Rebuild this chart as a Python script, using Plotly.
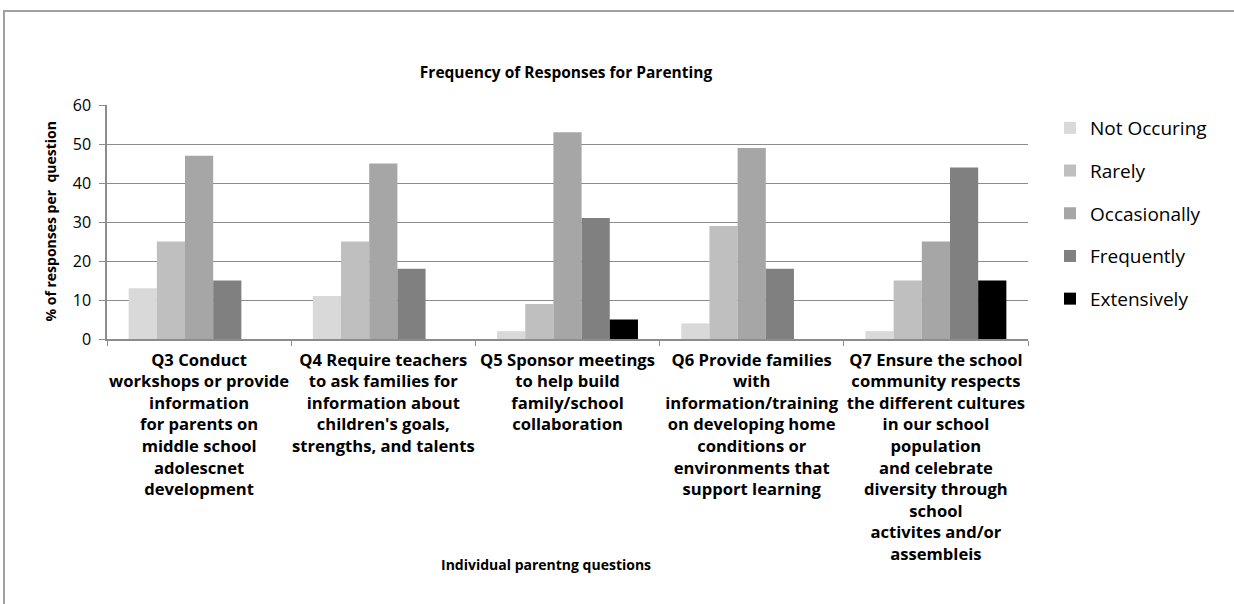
import plotly.graph_objects as go

# Survey results: share of responses per frequency level for each parenting question
questions = [
    "Q3 Conduct<br>workshops or provide<br>information<br>for parents on<br>middle school<br>adolescnet<br>development",
    "Q4 Require teachers<br>to ask families for<br>information about<br>children's goals,<br>strengths, and talents",
    "Q5 Sponsor meetings<br>to help build<br>family/school<br>collaboration",
    "Q6 Provide families<br>with<br>information/training<br>on developing home<br>conditions or<br>environments that<br>support learning",
    "Q7 Ensure the school<br>community respects<br>the different cultures<br>in our school<br>population<br>and celebrate<br>diversity through<br>school<br>activites and/or<br>assembleis",
]

not_occuring = [13, 11, 2, 4, 2]
rarely = [25, 25, 9, 29, 15]
occasionally = [47, 45, 53, 49, 25]
frequently = [15, 18, 31, 18, 44]
extensively = [0, 0, 5, 0, 15]

series_names = ["Not Occuring", "Rarely", "Occasionally", "Frequently", "Extensively"]
series_values = [not_occuring, rarely, occasionally, frequently, extensively]
series_colors = ["#D9D9D9", "#BFBFBF", "#A6A6A6", "#808080", "#000000"]

W, H = 1234, 604
L, R, T, B = 107, 1028, 105, 339
pw, ph = R - L, B - T


def px_x(x):
    return (x - L) / pw


def px_y(y):
    return (B - y) / ph


FONT = "'Open Sans', sans-serif"
GRID = "#8C8C8C"

fig = go.Figure()
for i, (name, vals, col) in enumerate(zip(series_names, series_values, series_colors)):
    fig.add_trace(go.Bar(
        name=name,
        x=questions,
        y=vals,
        marker=dict(color=col, line=dict(color=col, width=0)),
        legendgroup=f"g{i}",
    ))

fig.update_layout(
    width=W,
    height=H,
    margin=dict(l=L, r=W - R, t=T, b=H - B),
    paper_bgcolor="white",
    plot_bgcolor="white",
    barmode="group",
    bargap=0.235,
    bargroupgap=0,
    font=dict(family=FONT, color="#000000"),
    title=dict(
        text="Frequency of Responses for Parenting",
        font=dict(family=FONT, size=15.5, weight="bold", color="#000000"),
        x=px_x(566), xref="paper", xanchor="center",
        y=1 - 73 / H, yref="container", yanchor="middle",
    ),
    legend=dict(
        x=px_x(1050), y=px_y(109), xanchor="left", yanchor="top",
        font=dict(family=FONT, size=19, color="#000000"),
        tracegroupgap=15,
        itemwidth=30,
        bgcolor="rgba(0,0,0,0)",
    ),
    showlegend=True,
)

fig.update_xaxes(
    type="category",
    showline=True, linecolor=GRID, linewidth=1.5,
    ticks="outside", tickson="boundaries", ticklen=5, tickcolor=GRID, tickwidth=1,
    tickfont=dict(family=FONT, size=16.6, weight="bold", color="#000000"),
    tickangle=0,
    ticklabelstandoff=5,
    showgrid=False,
)

fig.update_yaxes(
    range=[0, 60],
    dtick=10,
    showline=True, linecolor=GRID, linewidth=1.5,
    showgrid=True, gridcolor=GRID, gridwidth=1.3,
    ticks="outside", ticklen=6, tickcolor=GRID,
    tickfont=dict(family=FONT, size=16, color="#000000"),
    ticklabelstandoff=5,
    zeroline=False,
)

# axis titles placed as annotations for exact positioning
fig.add_annotation(
    text="% of responses per  question",
    xref="paper", yref="paper",
    x=px_x(38), y=px_y(222),
    textangle=-90, showarrow=False,
    font=dict(family=FONT, size=14, weight="bold", color="#000000"),
)
fig.add_annotation(
    text="Individual parentng questions",
    xref="paper", yref="paper",
    x=px_x(546), y=px_y(576),
    showarrow=False,
    font=dict(family=FONT, size=14, weight="bold", color="#000000"),
)

# chart frame (left and top edges)
fig.add_shape(
    type="path",
    xref="paper", yref="paper",
    path=f"M {px_x(4)} {px_y(700)} L {px_x(4)} {px_y(11)} L {px_x(1300)} {px_y(11)}",
    line=dict(color="#A0A0A0", width=2),
)

fig.write_html("out.html")
